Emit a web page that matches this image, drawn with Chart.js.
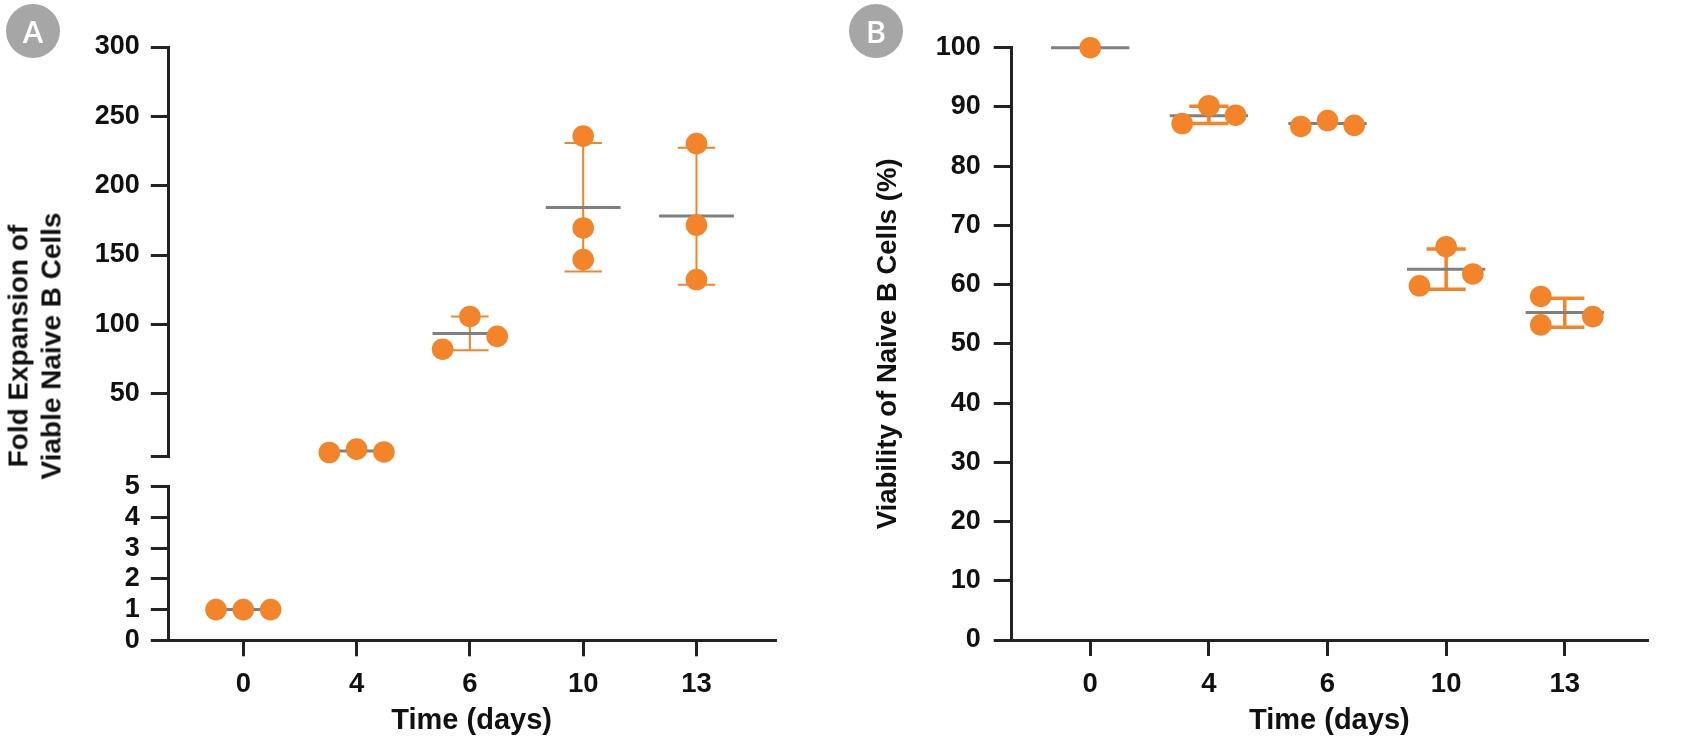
<!DOCTYPE html>
<html><head><meta charset="utf-8">
<script src="https://cdn.jsdelivr.net/npm/chart.js@4/dist/chart.umd.min.js"></script>
<style>
html,body{margin:0;padding:0;background:#fff;}
#wrap{position:relative;width:1700px;height:743px;overflow:hidden;}
.cv{position:absolute;}
.badge{position:absolute;width:54px;height:54px;border-radius:50%;background:#a6a6a6;color:#fff;font:600 31px "Open Sans","Liberation Sans",sans-serif;text-align:center;line-height:54px;}
#ytA{position:absolute;left:35px;top:346px;transform:translate(-50%,-50%) rotate(-90deg);white-space:nowrap;text-align:center;font:bold 28px "Liberation Sans",Arial,sans-serif;line-height:32.5px;color:#111;}
</style></head>
<body>
<div id="wrap">
  <canvas id="cA1" class="cv" width="850" height="500" style="left:0;top:0"></canvas>
  <canvas id="cA2" class="cv" width="850" height="303" style="left:0;top:440px"></canvas>
  <canvas id="cB" class="cv" width="850" height="743" style="left:850px;top:0"></canvas>
  <div class="badge" style="left:6px;top:4px">A</div>
  <div class="badge" style="left:849px;top:4px">B</div>
  <div id="ytA">Fold Expansion of<br>Viable Naive B Cells</div>
</div>
<script>
// ---------- data ----------
const days = ['0', '4', '6', '10', '13'];

// Panel A: fold expansion (replicates, mean, SD caps)
const foldReps = [[1, 1, 1], [7.6, 10.0, 8.0], [82.1, 105.7, 91.3], [235.8, 169.5, 146.7], [230.3, 171.6, 132.3]];
const foldMean = [1, 8.7, 93.4, 184.2, 178.1];
const foldHigh = [null, null, 105.7, 230.7, 227.3];
const foldLow  = [null, null, 81.4, 138.1, 128.6];
const foldTicksTop = [5, 50, 100, 150, 200, 250, 300];
const foldTicksBottom = [0, 1, 2, 3, 4, 5];
const foldBreak = 5;

// Panel B: viability (%)
const viaReps = [[100], [87.2, 90.2, 88.6], [86.7, 87.7, 86.9], [59.8, 66.4, 61.8], [58.0, 53.2, 54.6]];
const viaMean = [100, 88.5, 87.2, 62.6, 55.3];
const viaHigh = [null, 90.1, null, 66.0, 57.7];
const viaLow  = [null, 87.2, null, 59.2, 52.8];
const viaTicks = [0, 10, 20, 30, 40, 50, 60, 70, 80, 90, 100];

// ---------- layout (horizontal jitter slots of the dots) ----------
const foldSlots = [[-1, 0, 1], [-1, 0, 1], [-1, 0, 1], [0, 0, 0], [0, 0, 0]];
const viaSlots  = [[0], [-1, 0, 1], [-1, 0, 1], [-1, 0, 1], [-0.9, -0.9, 1.05]];

// ---------- styles ----------
const FONT = '"Liberation Sans", Arial, sans-serif';
const ORANGE = '#f3842a';
const GREY = '#808080';
const AX = '#222222';
const TXT = '#111111';
const XMIN = -0.662, XMAX = 4.693;

function pointsData(reps, slots, unit, keep) {
  const out = [];
  reps.forEach((arr, i) => arr.forEach((v, k) => { if (keep(v)) out.push({x: i + slots[i][k] * unit, y: v}); }));
  return out;
}
function meanData(mean, half, keep) {
  const out = [];
  mean.forEach((m, i) => { if (m == null || !keep(m)) return;
    out.push({x: i - half, y: m}, {x: i + half, y: m}, {x: i, y: null}); });
  return out;
}
function errData(high, low, capHalf, keep) {
  const out = [];
  high.forEach((h, i) => { const l = low[i]; if (h == null || !keep(h)) return;
    out.push({x: i, y: l}, {x: i, y: h}, {x: i, y: null},
             {x: i - capHalf, y: h}, {x: i + capHalf, y: h}, {x: i, y: null},
             {x: i - capHalf, y: l}, {x: i + capHalf, y: l}, {x: i, y: null}); });
  return out;
}
function datasets(pts, mean, err, errW, radius) {
  return [
    {data: pts, showLine: false, pointRadius: radius, pointHoverRadius: radius, backgroundColor: ORANGE, borderWidth: 0, order: 0, clip: false},
    {data: mean, showLine: true, spanGaps: false, pointRadius: 0, borderColor: GREY, borderWidth: 3, order: 1, clip: false},
    {data: err, showLine: true, spanGaps: false, pointRadius: 0, borderColor: ORANGE, borderWidth: errW, order: 2, clip: false}
  ];
}
function yAxis(min, max, ticks, width, labelFn, tickLen, pad, title) {
  return {
    type: 'linear', min: min, max: max,
    afterBuildTicks: s => { s.ticks = ticks.map(v => ({value: v})); },
    afterFit: s => { s.width = width; },
    border: {display: true, color: AX, width: 3},
    grid: {display: true, drawOnChartArea: false, drawTicks: true, tickLength: tickLen, tickWidth: 3, tickColor: AX, color: AX, lineWidth: 3},
    ticks: {autoSkip: false, color: TXT, padding: pad, font: {family: FONT, size: 27, weight: 'bold'}, callback: labelFn},
    title: title || {display: false}
  };
}
function xAxis(show, height) {
  if (!show) return {type: 'linear', min: XMIN, max: XMAX, display: false};
  return {
    type: 'linear', min: XMIN, max: XMAX,
    afterBuildTicks: s => { s.ticks = days.map((d, i) => ({value: i})); },
    afterFit: s => { s.height = height; },
    border: {display: true, color: AX, width: 3},
    grid: {display: true, drawOnChartArea: false, drawTicks: true, tickLength: 16, tickWidth: 3, tickColor: AX, color: AX, lineWidth: 3},
    ticks: {autoSkip: false, maxRotation: 0, color: TXT, padding: 12, font: {family: FONT, size: 27.5, weight: 'bold'}, callback: v => days[v]},
    title: {display: true, text: 'Time (days)', color: TXT, font: {family: FONT, size: 29, weight: 'bold'}, padding: {top: 0, bottom: 5}}
  };
}
function common(padding, scales, ds) {
  return {
    type: 'scatter',
    data: {datasets: ds},
    options: {
      responsive: false, animation: false, devicePixelRatio: 1,
      layout: {padding: padding},
      plugins: {legend: {display: false}, tooltip: {enabled: false}},
      scales: scales
    }
  };
}

const UA = 0.241, UB = 0.225;
const upper = v => v >= foldBreak, lower = v => v < foldBreak;

// Panel A, upper segment (chart area 47 .. 456.1)
new Chart(document.getElementById('cA1'), common(
  {top: 47, bottom: 43.9, left: 0, right: 75},
  {x: xAxis(false), y: yAxis(foldBreak, 300, foldTicksTop, 168.3, v => v === foldBreak ? '' : String(v), 17.5, 11)},
  datasets(pointsData(foldReps, foldSlots, UA, upper), meanData(foldMean, 0.33, upper), errData(foldHigh, foldLow, 0.165, upper), 2, 10.8)
));
// Panel A, lower segment (chart area 486.7 .. 640.3)
new Chart(document.getElementById('cA2'), common(
  {top: 46.7, bottom: 0, left: 0, right: 75},
  {x: xAxis(true, 102.7), y: yAxis(0, foldBreak, foldTicksBottom, 168.3, v => String(v), 17.5, 11)},
  datasets(pointsData(foldReps, foldSlots, UA, lower), meanData(foldMean, 0.33, lower), errData(foldHigh, foldLow, 0.165, lower), 2, 10.8)
));
// Panel B
new Chart(document.getElementById('cB'), common(
  {top: 47.7, bottom: 0, left: 0, right: 53},
  {x: xAxis(true, 103), y: yAxis(0, 100, viaTicks, 161.7, v => String(v), 18, 13,
      {display: true, text: 'Viability of Naive B Cells (%)', color: TXT, font: {family: FONT, size: 27.5, weight: 'bold'}, padding: {top: 22, bottom: 0}})},
  datasets(pointsData(viaReps, viaSlots, UB, () => true), meanData(viaMean, 0.33, () => true), errData(viaHigh, viaLow, 0.165, () => true), 3.5, 10.8)
));
</script>
</body></html>
